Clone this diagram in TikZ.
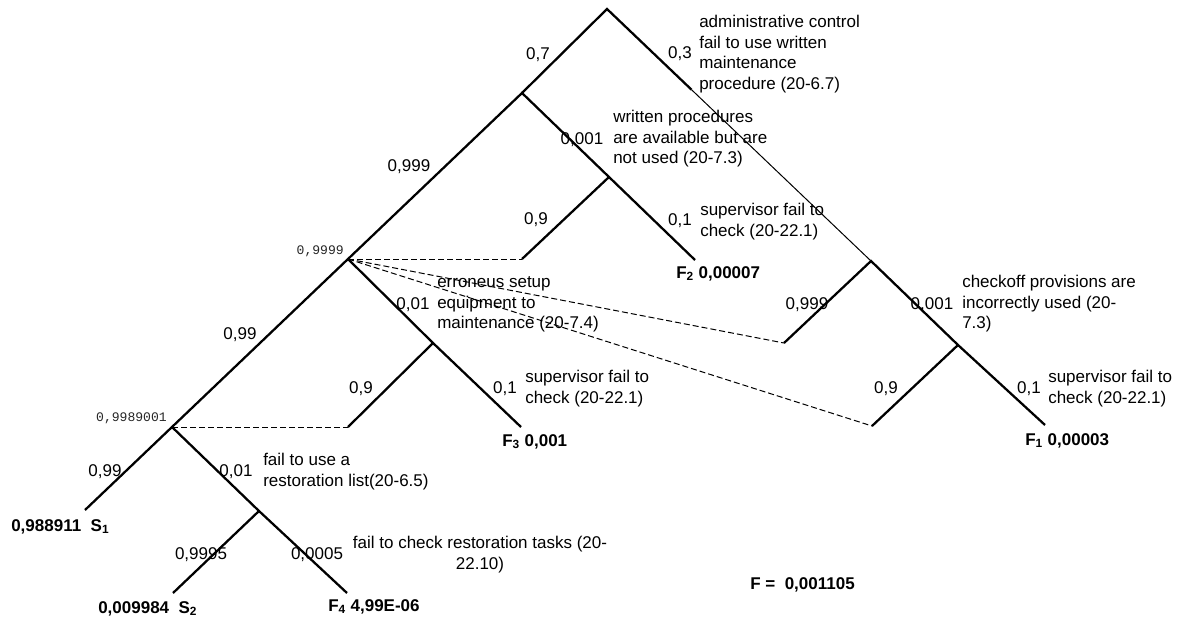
\documentclass[tikz,border=0pt]{standalone}
\usepackage{fontspec}
\setmainfont{Liberation Sans}
\newfontfamily\monof{Liberation Mono}
\usetikzlibrary{calc}
\begin{document}
\begin{tikzpicture}[x=0.75pt,y=-0.75pt,
  br/.style={line width=1.7pt},
  thinline/.style={line width=0.75pt},
  dsh/.style={line width=0.75pt, dash pattern=on 4.5pt off 2.25pt},
  lbl/.style={inner sep=0pt, anchor=base, font=\fontsize{12.75}{15.6}\selectfont},
  desc/.style={inner sep=0pt, align=left, anchor=north west, font=\fontsize{12.75}{15.6}\selectfont},
  res/.style={inner sep=0pt, anchor=base west, font=\fontsize{12.75}{15.6}\selectfont\bfseries},
  mono/.style={inner sep=0pt, anchor=base east, text=black!85, font=\monof\fontsize{9.8}{11}\selectfont}]
\useasboundingbox (0,0) rectangle (1178,618);

% branch points
\coordinate (T) at (607,9);
\coordinate (A) at (522,93);
\coordinate (H) at (871,261);
\coordinate (Tm) at ($(T)!0.32!(H)$);
\coordinate (B) at (348,259);
\coordinate (C) at (609,177);
\coordinate (Cl) at (522,259);
\coordinate (F2e) at (695,260);
\coordinate (D) at (433,343);
\coordinate (Dl) at (348,427);
\coordinate (F3e) at (521,427);
\coordinate (E) at (172,427);
\coordinate (S1e) at (85,510);
\coordinate (G) at (259,511);
\coordinate (S2e) at (173,593);
\coordinate (F4e) at (347,593);
\coordinate (Hl) at (784,343);
\coordinate (I) at (958,345);
\coordinate (Il) at (872,426);
\coordinate (F1e) at (1045,425);

% branches
\draw[br] (A) -- (T) -- (Tm);
\draw[thinline] (Tm) -- (H);
\draw[br] (S1e) -- (E) -- (B) -- (A) -- (C) -- (F2e);
\draw[br] (Cl) -- (C);
\draw[br] (B) -- (D) -- (F3e);
\draw[br] (Dl) -- (D);
\draw[br] (E) -- (G) -- (F4e);
\draw[br] (S2e) -- (G);
\draw[br] (Hl) -- (H) -- (I) -- (F1e);
\draw[br] (Il) -- (I);

% dashed links
\draw[dsh] (B) -- (Cl);
\draw[dsh] (B) -- (Hl);
\draw[dsh] (B) -- (Il);
\draw[dsh] (E) -- (Dl);

% probabilities
\node[lbl] (p07) at (538,59) {0,7};
\node[lbl] (p03) at (680,58) {0,3};
\node[lbl] (p0999a) at (409,171) {0,999};
\node[lbl] (p0001a) at (582,144) {0,001};
\node[lbl] (p09a) at (536,224) {0,9};
\node[lbl] (p01a) at (680,225) {0,1};
\node[lbl] (p001a) at (413,309) {0,01};
\node[lbl] (p099a) at (240,339) {0,99};
\node[lbl] (p09b) at (361,393) {0,9};
\node[lbl] (p01b) at (505,393) {0,1};
\node[lbl] (p0999b) at (807,309) {0,999};
\node[lbl] (p0001b) at (932,309) {0,001};
\node[lbl] (p09c) at (886,393) {0,9};
\node[lbl] (p01c) at (1029,393) {0,1};
\node[lbl] (p099b) at (105,476) {0,99};
\node[lbl] (p001b) at (236,476) {0,01};
\node[lbl] (p09995) at (201,559) {0,9995};
\node[lbl] (p00005) at (317,559) {0,0005};

% cumulative values
\node[mono] (m1) at (344,254) {0,9999};
\node[mono] (m2) at (167,421) {0,9989001};

% descriptions
\node[desc] (d1) at (699,12.4) {\strut administrative control\\fail to use written\\maintenance\\procedure (20-6.7)};
\node[desc] (d2) at (613,107.4) {\strut written procedures\\are available but are\\not used (20-7.3)};
\node[desc] (d3) at (700,200.4) {\strut supervisor fail to\\check (20-22.1)};
\node[desc] (d4) at (437,272.4) {\strut erroneus setup\\equipment to\\maintenance (20-7.4)};
\node[desc] (d5) at (525,367.4) {\strut supervisor fail to\\check (20-22.1)};
\node[desc] (d6) at (962,272.4) {\strut checkoff provisions are\\incorrectly used (20-\\7.3)};
\node[desc] (d7) at (1048,367.4) {\strut supervisor fail to\\check (20-22.1)};
\node[desc] (d8) at (263,450.4) {\strut fail to use a\\restoration list(20-6.5)};
\node[desc, align=center, anchor=north] (d9) at (480,533.4) {\strut fail to check restoration tasks (20-\\22.10)};

% results
\node[res] (rF2) at (676,278) {F\textsubscript{2} 0,00007};
\node[res] (rF3) at (502,446) {F\textsubscript{3} 0,001};
\node[res] (rF1) at (1025,445) {F\textsubscript{1} 0,00003};
\node[res] (rS1) at (11,531) {0,988911\ \ S\textsubscript{1}};
\node[res] (rS2) at (98,613) {0,009984\ \ S\textsubscript{2}};
\node[res] (rF4) at (328,611) {F\textsubscript{4} 4,99E-06};
\node[res] (rF) at (750,589) {F =\ \ 0,001105};
\end{tikzpicture}
\end{document}
